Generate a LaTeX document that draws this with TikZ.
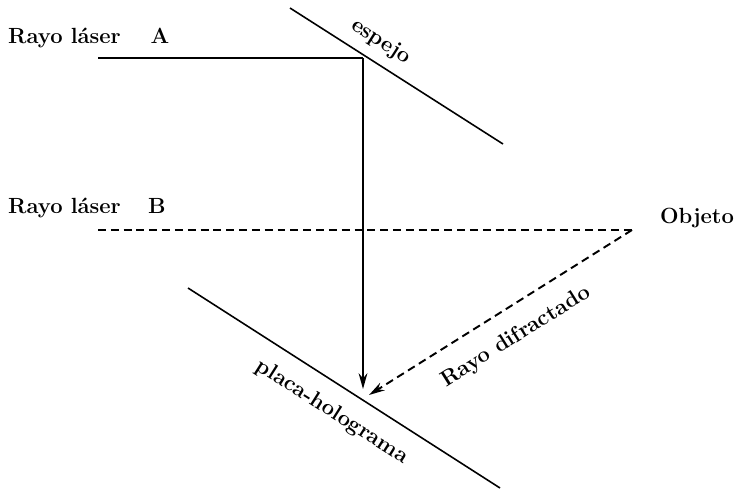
\documentclass[tikz,border=0pt]{standalone}
\usetikzlibrary{arrows.meta}
\begin{document}
\begin{tikzpicture}[x=0.02cm,y=-0.02cm,
  lbl/.style={font=\bfseries\fontsize{12.5}{15}\selectfont,inner sep=1pt},
  ray/.style={black,line width=1.1pt},
  dray/.style={black,line width=1.1pt,dash pattern=on 4.5pt off 2.8pt},
  tip/.style={-{Stealth[length=9pt,width=5pt]}}]
\useasboundingbox (0,0) rectangle (737,491);
\coordinate (m1) at (290,8);
\coordinate (m2) at (503,144);
\coordinate (p1) at (188,288);
\coordinate (p2) at (500,488);
\coordinate (a0) at (98,58);
\coordinate (hit) at (363,58);
\coordinate (down) at (363,389);
\coordinate (b0) at (98,230);
\coordinate (obj) at (632,230);
\coordinate (dif) at (369,395);
\draw[black,line width=0.9pt] (m1) -- (m2);
\draw[black,line width=0.9pt] (p1) -- (p2);
\draw[ray] (a0) -- (hit);
\draw[ray,tip] (hit) -- (down);
\draw[dray] (b0) -- (obj);
\draw[dray,tip] (obj) -- (dif);
\node[lbl,anchor=base west] (la) at (6,43) {Rayo láser};
\node[lbl,anchor=base] (na) at (160,43) {A};
\node[lbl,anchor=base west] (lb) at (6,213) {Rayo láser};
\node[lbl,anchor=base] (nb) at (157,213) {B};
\node[lbl] (objeto) at (697,218) {Objeto};
\node[lbl,rotate=-32.5] (espejo) at (381,42) {espejo};
\node[lbl,rotate=-32.5] (placa) at (332,412) {placa-holograma};
\node[lbl,rotate=32.2] (difr) at (516,337) {Rayo difractado};
\end{tikzpicture}
\end{document}
